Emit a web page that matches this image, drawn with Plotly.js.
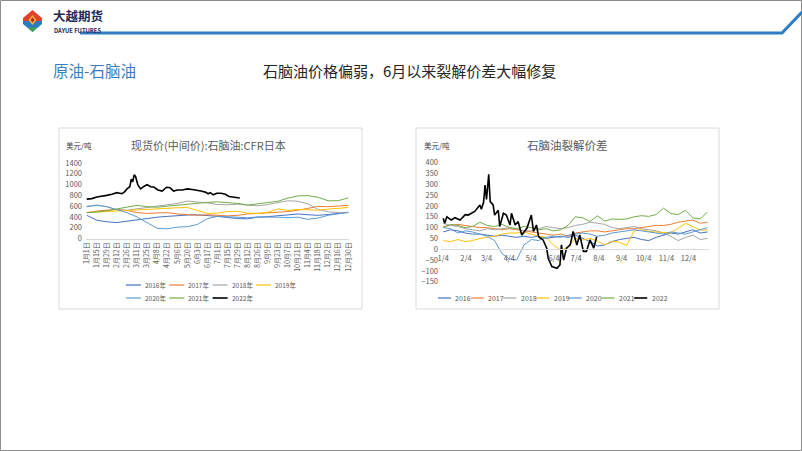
<!DOCTYPE html>
<html>
<head>
<meta charset="utf-8">
<script src="https://cdn.plot.ly/plotly-3.0.1.min.js"></script>
<style>
  html, body { margin: 0; padding: 0; background: #fff; }
  #chart { width: 802px; height: 451px; }
</style>
</head>
<body>
<div id="chart"></div>
<script>
// left chart: CFR Japan naphtha price, USD/t, by day of year
const years = ["2016", "2017", "2018", "2019", "2020", "2021", "2022"];
const colors = ["#4472C4", "#ED7D31", "#A5A5A5", "#FFC000", "#5B9BD5", "#70AD47", "#000000"];

const priceDays = [1, 15, 29, 43, 57, 71, 85, 99, 113, 127, 141, 155, 169, 183, 197, 211, 225, 239, 253, 267, 281, 295, 309, 323, 337, 351, 365];
const priceTickDays = [1, 15, 29, 43, 57, 71, 85, 99, 113, 127, 141, 155, 169, 183, 197, 211, 225, 239, 253, 267, 281, 295, 309, 323, 337, 351, 365];
const priceTickText = ["1月1日", "1月15日", "1月29日", "2月12日", "2月26日", "3月11日", "3月25日", "4月8日", "4月22日", "5月6日", "5月20日", "6月3日", "6月17日", "7月1日", "7月15日", "7月29日", "8月12日", "8月26日", "9月9日", "9月23日", "10月7日", "10月21日", "11月4日", "11月18日", "12月2日", "12月16日", "12月30日"];

const price2016 = [430, 340, 310, 295, 320, 345, 375, 395, 410, 425, 435, 440, 430, 410, 390, 370, 365, 395, 405, 420, 435, 455, 440, 430, 445, 465, 485];
const price2017 = [480, 510, 525, 540, 520, 480, 465, 470, 480, 455, 440, 430, 440, 430, 420, 430, 455, 465, 475, 490, 500, 525, 560, 595, 590, 600, 615];
const price2018 = [600, 620, 590, 530, 525, 545, 575, 600, 625, 650, 695, 680, 660, 630, 625, 635, 620, 605, 630, 665, 700, 690, 640, 540, 495, 480, 480];
const price2019 = [480, 490, 505, 520, 525, 540, 550, 555, 560, 570, 575, 520, 465, 470, 500, 505, 470, 465, 485, 550, 520, 540, 530, 525, 545, 565, 575];
const price2020 = [590, 615, 590, 540, 480, 400, 290, 190, 180, 210, 220, 260, 370, 410, 405, 390, 385, 400, 400, 395, 385, 395, 355, 380, 430, 460, 485];
const price2021 = [480, 490, 515, 550, 580, 615, 590, 580, 600, 620, 640, 655, 670, 680, 665, 650, 620, 640, 660, 690, 750, 790, 795, 765, 700, 700, 755];
const price2022Days = [1, 8, 15, 22, 29, 36, 43, 50, 54, 57, 61, 63, 65, 67, 69, 72, 76, 80, 85, 90, 95, 100, 106, 112, 117, 122, 127, 134, 141, 148, 155, 160, 166, 170, 173, 177, 182, 188, 194, 199, 204, 209, 214];
const price2022 = [730, 740, 770, 780, 800, 820, 850, 830, 870, 920, 960, 1100, 1050, 1180, 1150, 1000, 920, 960, 1000, 960, 950, 900, 880, 950, 940, 880, 900, 900, 920, 910, 900, 880, 860, 830, 850, 810, 840, 840, 820, 780, 770, 760, 750];

// right chart: naphtha crack spread, USD/t
const crackDays = [4, 14, 24, 34, 44, 54, 64, 74, 84, 94, 104, 114, 124, 134, 144, 154, 164, 174, 184, 194, 204, 214, 224, 234, 244, 254, 264, 274, 284, 294, 304, 314, 324, 334, 344, 354, 364];
const crackTickDays = [4, 35, 63, 94, 124, 155, 185, 216, 247, 277, 308, 338];
const crackTickText = ["1/4", "2/4", "3/4", "4/4", "5/4", "6/4", "7/4", "8/4", "9/4", "10/4", "11/4", "12/4"];

const crack2016 = [80, 90, 85, 75, 70, 70, 65, 60, 65, 60, 55, 60, 55, 60, 50, 55, 60, 55, 65, 50, 35, 15, 20, 35, 45, 50, 55, 45, 40, 55, 65, 75, 70, 80, 90, 75, 80];
const crack2017 = [105, 110, 115, 110, 105, 100, 100, 95, 90, 95, 90, 85, 80, 75, 70, 65, 70, 60, 75, 80, 85, 85, 80, 85, 90, 95, 95, 100, 105, 110, 110, 115, 125, 130, 135, 120, 125];
const crack2018 = [120, 110, 105, 95, 90, 85, 95, 90, 95, 100, 95, 85, 85, 95, 105, 100, 95, 100, 110, 115, 125, 120, 115, 100, 95, 100, 105, 95, 90, 85, 75, 60, 40, 55, 65, 45, 50];
const crack2019 = [40, 35, 45, 35, 40, 50, 55, 60, 70, 75, 75, 80, 70, 60, 55, 20, -5, 10, 50, 43, 50, 38, 20, 38, 32, 17, 85, 90, 82, 80, 80, 75, 97, 120, 105, 89, 89];
const crack2020 = [100, 95, 75, 85, 80, 70, 60, 40, -20, -45, -50, 20, 45, 40, 55, 60, 55, 65, 70, 75, 70, 60, 65, 75, 80, 85, 90, 85, 80, 75, 70, 80, 75, 70, 80, 90, 100];
const crack2021 = [100, 115, 110, 100, 105, 125, 110, 105, 115, 100, 95, 105, 100, 90, 95, 85, 90, 110, 150, 145, 128, 155, 130, 140, 138, 140, 150, 155, 152, 160, 190, 165, 160, 180, 145, 140, 172];
const crack2022Days = [4, 6, 9, 15, 20, 27, 34, 38, 47, 54, 56, 59, 61, 63, 66, 68, 72, 74, 79, 81, 86, 90, 95, 97, 102, 106, 111, 118, 124, 127, 131, 134, 140, 145, 147, 152, 159, 163, 165, 168, 172, 177, 181, 186, 190, 195, 199, 204, 209, 213];
const crack2022 = [143, 120, 150, 135, 146, 135, 160, 158, 175, 205, 185, 217, 297, 230, 346, 220, 205, 158, 180, 105, 166, 158, 112, 166, 112, 128, 66, 97, 158, 82, 112, 58, 43, 5, -42, -80, -88, -72, 20, -50, 5, 20, 82, 20, 66, -10, -10, 43, 5, 58];

const W = 802, H = 451;
const px = x => x / W;
const py = y => 1 - y / H;
const FONT = "Noto Sans CJK SC, Noto Sans, sans-serif";

const priceSeries = [
    [priceDays, price2016], [priceDays, price2017], [priceDays, price2018], [priceDays, price2019],
    [priceDays, price2020], [priceDays, price2021], [price2022Days, price2022]
];
const crackSeries = [
    [crackDays, crack2016], [crackDays, crack2017], [crackDays, crack2018], [crackDays, crack2019],
    [crackDays, crack2020], [crackDays, crack2021], [crack2022Days, crack2022]
];

const traces = [];
priceSeries.forEach((s, i) => {
    traces.push({
        x: s[0], y: s[1], xaxis: "x", yaxis: "y", mode: "lines", name: years[i] + "年",
        line: { color: colors[i], width: i === 6 ? 1.6 : 1 }
    });
});
crackSeries.forEach((s, i) => {
    traces.push({
        x: s[0], y: s[1], xaxis: "x2", yaxis: "y2", mode: "lines", name: years[i],
        line: { color: colors[i], width: i === 6 ? 1.6 : 1 }
    });
});

const shapes = [];
const annotations = [];

function rect(x0, y0, x1, y1, color, width) {
    shapes.push({ type: "rect", xref: "paper", yref: "paper", x0: px(x0), x1: px(x1), y0: py(y1), y1: py(y0),
        line: { color: color, width: width }, fillcolor: "rgba(0,0,0,0)" });
}
function seg(x0, y0, x1, y1, color, width) {
    shapes.push({ type: "line", xref: "paper", yref: "paper", x0: px(x0), x1: px(x1), y0: py(y0), y1: py(y1),
        line: { color: color, width: width } });
}
function poly(pts, fill) {
    const d = pts.map((p, i) => (i ? "L" : "M") + px(p[0]).toFixed(5) + "," + py(p[1]).toFixed(5)).join(" ") + " Z";
    shapes.push({ type: "path", xref: "paper", yref: "paper", path: d, fillcolor: fill, line: { width: 0 } });
}
function text(x, y, t, size, color, xanchor, extra) {
    annotations.push(Object.assign({ xref: "paper", yref: "paper", x: px(x), y: py(y), text: t, showarrow: false,
        xanchor: xanchor || "left", yanchor: "middle", font: { family: FONT, size: size, color: color } }, extra || {}));
}

// slide border + header
rect(0.5, 0.5, 801.5, 450.5, "#8c8c8c", 1);
shapes.push({ type: "path", xref: "paper", yref: "paper",
    path: "M" + px(80) + "," + py(33) + " L" + px(782) + "," + py(33) + " L" + px(802) + "," + py(12),
    line: { color: "#2F7DC3", width: 3 } });

// logo
poly([[32.5, 10], [42, 18], [42, 21], [23, 21], [23, 18]], "#E0412A");
poly([[23, 21], [42, 21], [42, 24], [32.5, 32], [23, 24]], "#2C7BC0");
poly([[28, 27.5], [37, 27.5], [32.5, 32]], "#3FA34D");
poly([[32.5, 15], [36.5, 20], [32.5, 25], [28.5, 20]], "#F4B33A");
poly([[32.5, 17.5], [34.5, 20], [32.5, 22.5], [30.5, 20]], "#B8241C");
text(52, 15.5, "<b>大越期货</b>", 12.5, "#1E2B5C", "left", { borderpad: 0 });
text(52.5, 30.5, "<b>DAYUE FUTURES</b>", 5.8, "#1E2B5C", "left", { borderpad: 0 });

text(51, 70, "原油-石脑油", 15.5, "#3A7CC4");
text(261, 70, "石脑油价格偏弱，6月以来裂解价差大幅修复", 15, "#262626");

// chart frames
rect(59, 128, 362, 309, "#d9d9d9", 1);
rect(416, 128, 719, 309, "#d9d9d9", 1);

// chart titles
text(64, 145, "美元/吨", 7.5, "#404040");
text(208, 145, "现货价(中间价):石脑油:CFR日本", 11, "#595959", "center");
text(422, 145, "美元/吨", 7.5, "#404040");
text(567, 145, "石脑油裂解价差", 11.5, "#595959", "center");

// legends
years.forEach((yr, i) => {
    const row = i < 4 ? 0 : 1;
    const col = i < 4 ? i : i - 4;
    const lx = 126 + col * 43.3, ly = row ? 298 : 285;
    seg(lx, ly, lx + 15, ly, colors[i], i === 6 ? 1.6 : 1.2);
    text(lx + 17, ly, yr + "年", 6.5, "#595959");

    const rx = 438 + i * 32.7, ry = 298;
    seg(rx, ry, rx + 13, ry, colors[i], i === 6 ? 1.6 : 1.2);
    text(rx + 15.5, ry, yr, 7, "#595959");
});

const tickFont = { family: FONT, size: 7.5, color: "#595959" };

const layout = {
    width: W, height: H,
    margin: { l: 0, r: 0, t: 0, b: 0 },
    paper_bgcolor: "#ffffff", plot_bgcolor: "rgba(0,0,0,0)",
    showlegend: false,
    xaxis: {
        domain: [px(86), px(349)], range: [0, 366], anchor: "y",
        tickmode: "array", tickvals: priceTickDays, ticktext: priceTickText,
        tickangle: -90, ticks: "", showgrid: false, zeroline: false,
        showline: true, linecolor: "#d9d9d9", linewidth: 1,
        tickfont: { family: FONT, size: 7, color: "#595959" }
    },
    yaxis: {
        domain: [py(238.5), py(163)], range: [0, 1400], dtick: 200, anchor: "x",
        ticks: "", showgrid: false, zeroline: false, showline: false,
        tickfont: tickFont, ticklabelstandoff: 3
    },
    xaxis2: {
        domain: [px(441), px(709)], range: [1, 366], anchor: "free",
        position: py(281.7) + (py(162.7) - py(281.7)) * 150 / 550,
        tickmode: "array", tickvals: crackTickDays, ticktext: crackTickText,
        ticks: "", showgrid: false, zeroline: false,
        showline: true, linecolor: "#d9d9d9", linewidth: 1,
        tickfont: tickFont, ticklabelstandoff: 2
    },
    yaxis2: {
        domain: [py(281.7), py(162.7)], range: [-150, 400], dtick: 50, anchor: "x2",
        ticks: "", showgrid: false, zeroline: false, showline: false,
        tickfont: tickFont, ticklabelstandoff: 2
    },
    shapes: shapes,
    annotations: annotations
};

Plotly.newPlot("chart", traces, layout, { staticPlot: true, displayModeBar: false });
</script>
</body>
</html>
